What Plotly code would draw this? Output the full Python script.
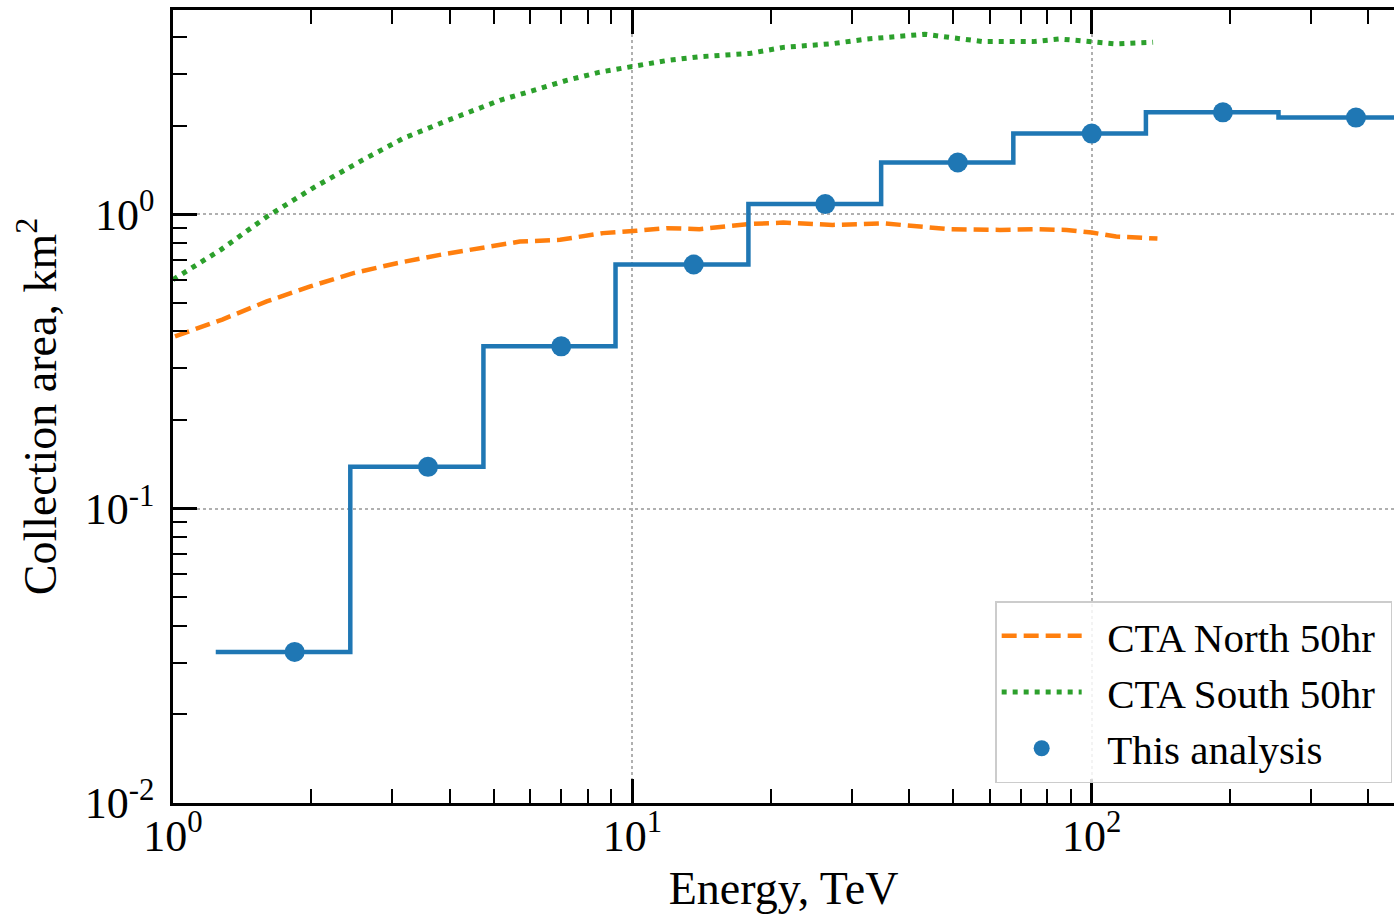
import plotly.graph_objects as go

# ---- data ----
# CTA North 50hr (energy TeV, area km^2)
north_e = [1.01, 1.28, 1.60, 1.99, 2.47, 3.07, 3.81, 4.82, 5.69, 6.96, 8.63, 10.2, 11.9, 14.0,
           18.0, 21.3, 27.3, 35.1, 41.6, 49.1, 63.1, 74.4, 88.2, 100, 113, 139]
north_a = [0.385, 0.439, 0.506, 0.569, 0.631, 0.682, 0.728, 0.777, 0.808, 0.819, 0.863, 0.879,
           0.897, 0.890, 0.927, 0.937, 0.920, 0.932, 0.908, 0.890, 0.885, 0.890, 0.885, 0.867,
           0.840, 0.827]

# CTA South 50hr
south_e = [1.0, 1.04, 1.27, 1.60, 2.02, 2.59, 3.17, 3.95, 5.15, 6.07, 7.19, 8.49, 10.0, 11.9, 14.0,
           18.0, 21.3, 27.3, 32.4, 38.2, 43.3, 49.1, 58.0, 74.4, 85.2, 95.5, 113, 136]
south_a = [0.60, 0.623, 0.757, 0.981, 1.23, 1.53, 1.81, 2.08, 2.44, 2.63, 2.85, 3.04, 3.18, 3.33,
           3.43, 3.52, 3.69, 3.80, 3.94, 4.04, 4.09, 3.99, 3.86, 3.86, 3.94, 3.88, 3.79, 3.84]

# This analysis: bin edges, bin centres and collection area
bin_edges = [1.239, 2.432, 4.74, 9.19, 17.89, 34.8, 67.5, 131.2, 255, 496]
bin_centers = [1.84, 3.59, 7.0, 13.6, 26.3, 51.1, 100, 193, 376]
bin_area = [0.0326, 0.1387, 0.356, 0.675, 1.083, 1.50, 1.88, 2.22, 2.13]

x_tickvals = [1, 10, 100]
x_ticktext = ["10<sup>0</sup>", "10<sup>1</sup>", "10<sup>2</sup>"]
y_tickvals = [0.01, 0.1, 1]
y_ticktext = ["10<sup>-2</sup>", "10<sup>-1</sup>", "10<sup>0</sup>"]

BLUE = "#1f77b4"
ORANGE = "#ff7f0e"
GREEN = "#2ca02c"
FONT = "Liberation Serif"
GAP = "\u00a0\u00a0"
TAIL = "\u00a0"

fig = go.Figure()

fig.add_trace(go.Scatter(
    x=north_e, y=north_a, mode="lines", name=GAP + "CTA North 50hr" + TAIL,
    line=dict(color=ORANGE, width=4.5, dash="15px,7px"),
))
fig.add_trace(go.Scatter(
    x=south_e, y=south_a, mode="lines", name=GAP + "CTA South 50hr" + TAIL,
    line=dict(color=GREEN, width=5, dash="5px,6px"),
))
# step histogram
fig.add_trace(go.Scatter(
    x=bin_edges, y=bin_area + [bin_area[-1]], mode="lines", showlegend=False,
    line=dict(color=BLUE, width=4.5, shape="hv"), hoverinfo="skip",
))
fig.add_trace(go.Scatter(
    x=bin_centers, y=bin_area, mode="markers", name=GAP + "This analysis" + TAIL,
    marker=dict(color=BLUE, size=20),
    error_y=dict(type="percent", value=0, thickness=4, width=0, color=BLUE),
))

axis_common = dict(
    type="log",
    showline=True, linecolor="black", linewidth=2.5,
    ticks="inside", ticklen=24, tickwidth=2.5, tickcolor="black",
    showgrid=True, gridcolor="#b0b0b0", gridwidth=1.5, griddash="dot",
    zeroline=False,
    tickfont=dict(family=FONT, size=44, color="black"),
    minor=dict(ticks="inside", ticklen=14, tickwidth=1.5, tickcolor="black",
               dtick="D1", showgrid=False),
)

fig.update_xaxes(
    **axis_common,
    range=[0, 2.658],
    tickvals=x_tickvals, ticktext=x_ticktext,
    mirror="allticks",
    ticklabelstandoff=-8,
    title=dict(text="Energy, TeV", font=dict(family=FONT, size=46, color="black"), standoff=14),
)
fig.update_yaxes(
    **axis_common,
    range=[-2, 0.694],
    tickvals=y_tickvals, ticktext=y_ticktext,
    mirror=False,
    ticklabelstandoff=7,
    title=dict(text="Collection area, km<sup>2</sup>", font=dict(family=FONT, size=46, color="black"), standoff=14),
)

fig.update_layout(
    width=1394, height=914,
    margin=dict(l=173, r=0, t=10, b=111),
    plot_bgcolor="white", paper_bgcolor="white",
    font=dict(family=FONT, color="black"),
    legend=dict(
        x=0.9985, xanchor="right", y=0.2547, yanchor="top",
        bgcolor="rgba(255,255,255,0.85)", bordercolor="#cccccc", borderwidth=1.5,
        font=dict(family=FONT, size=41, color="black"),
        itemwidth=80,
    ),
)

fig.write_html(
    "out.html",
    config={"displayModeBar": False},
    post_script="document.body.style.margin='0';document.body.style.overflow='hidden';",
)
